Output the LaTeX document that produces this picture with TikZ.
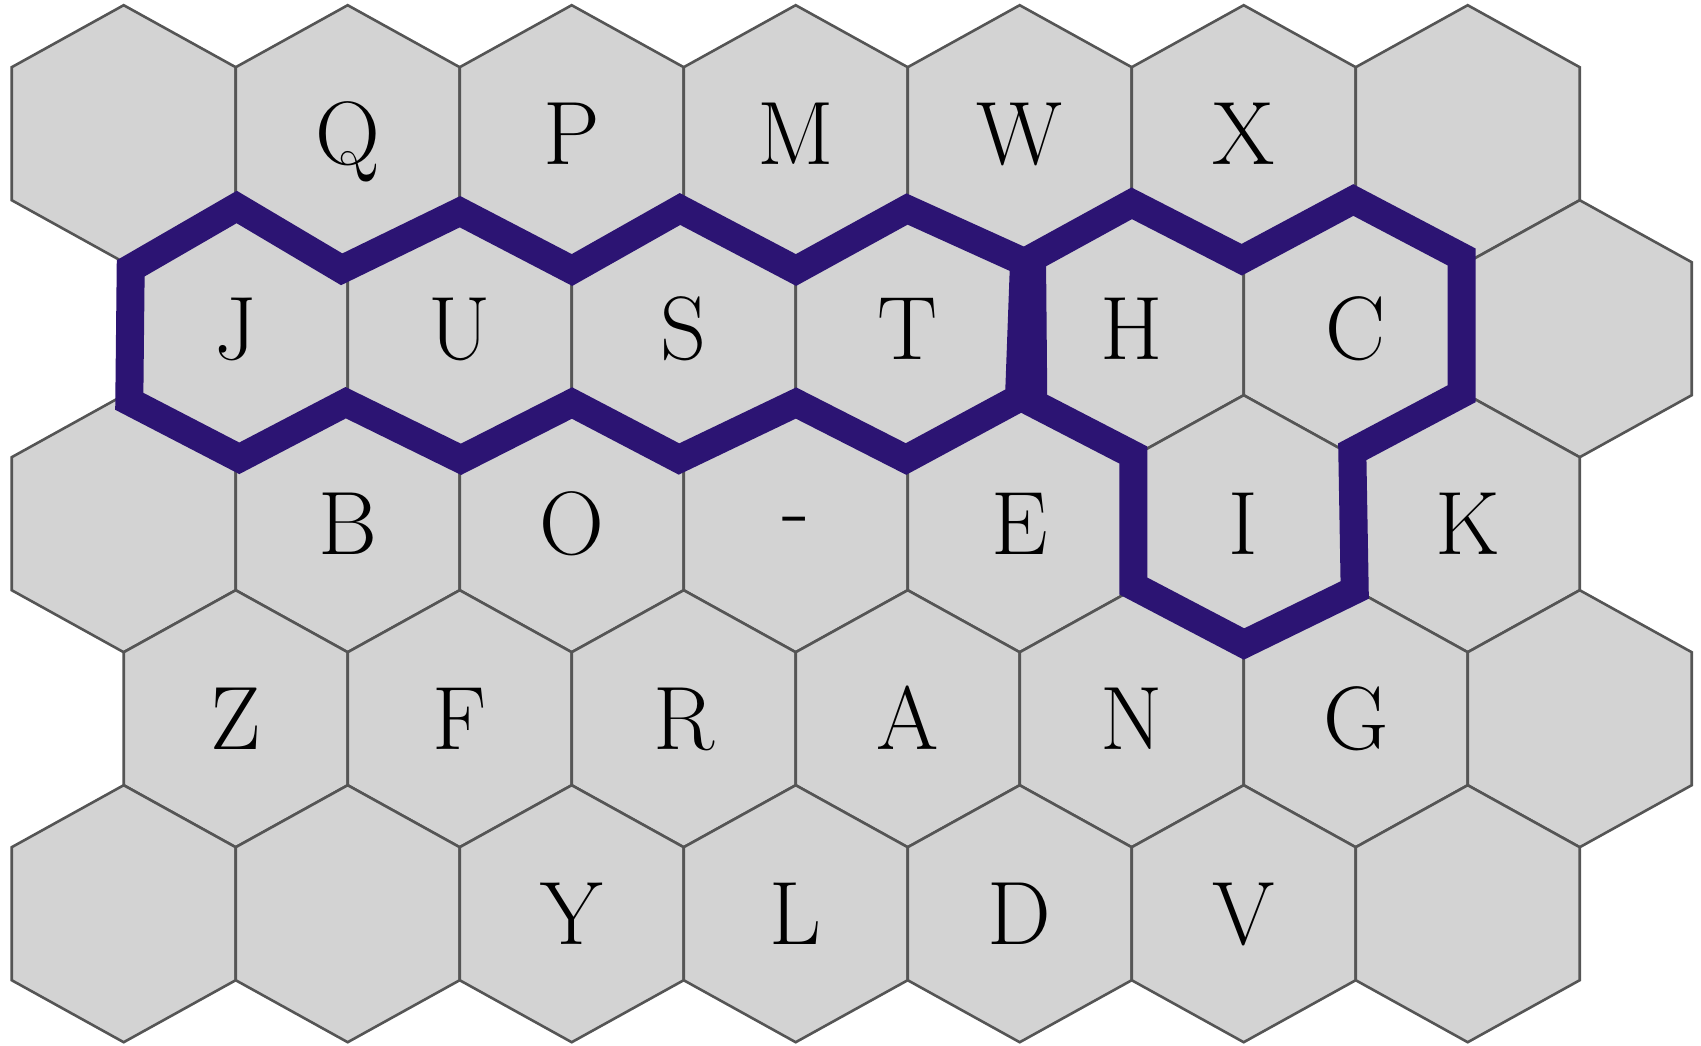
\documentclass[tikz,border=0pt]{standalone}
\definecolor{hexfill}{RGB}{211,211,211}
\definecolor{hexline}{RGB}{85,85,85}
\definecolor{wordline}{RGB}{44,20,115}
\begin{document}
\begin{tikzpicture}[x=0.5pt,y=-0.5pt,
  hexcell/.style={fill=hexfill, draw=hexline, line width=1.3pt, line join=miter},
  lbl/.style={anchor=base, inner sep=0pt, font=\fontsize{45}{54}\selectfont},
  wordpath/.style={draw=wordline, line width=14pt, line join=miter, miter limit=4}]
\useasboundingbox (0,0) rectangle (1701,1045);
% hexagonal grid
\foreach \r in {0,...,4}{
  \foreach \k in {0,...,6}{
    \pgfmathsetmacro\cx{123.7 + 224*\k + 112*mod(\r,2)}
    \pgfmathsetmacro\cy{133.7 + 195*\r}
    \draw[hexcell] (\cx,\cy-128.5) -- (\cx+112,\cy-66.5) -- (\cx+112,\cy+66.5)
      -- (\cx,\cy+128.5) -- (\cx-112,\cy+66.5) -- (\cx-112,\cy-66.5) -- cycle;
  }
}
% row 0
\node[lbl] (Q) at (347.7,164.7) {Q};
\node[lbl] (P) at (571.7,164.7) {P};
\node[lbl] (M) at (795.7,164.7) {M};
\node[lbl] (W) at (1019.7,164.7) {W};
\node[lbl] (X) at (1243.7,164.7) {X};
% row 1
\node[lbl] (J) at (235.7,359.7) {J};
\node[lbl] (U) at (459.7,359.7) {U};
\node[lbl] (S) at (683.7,359.7) {S};
\node[lbl] (T) at (907.7,359.7) {T};
\node[lbl] (H) at (1131.7,359.7) {H};
\node[lbl] (C) at (1355.7,359.7) {C};
% row 2
\node[lbl] (B) at (347.7,554.7) {B};
\node[lbl] (O) at (571.7,554.7) {O};
\node[lbl] (hyph) at (795.7,538) {-};
\node[lbl] (E) at (1019.7,554.7) {E};
\node[lbl] (I) at (1243.7,554.7) {I};
\node[lbl] (K) at (1467.7,554.7) {K};
% row 3
\node[lbl] (Z) at (235.7,749.7) {Z};
\node[lbl] (F) at (459.7,749.7) {F};
\node[lbl] (R) at (683.7,749.7) {R};
\node[lbl] (A) at (907.7,749.7) {A};
\node[lbl] (N) at (1131.7,749.7) {N};
\node[lbl] (G) at (1355.7,749.7) {G};
% row 4
\node[lbl] (Y) at (571.7,944.7) {Y};
\node[lbl] (L) at (795.7,944.7) {L};
\node[lbl] (D) at (1019.7,944.7) {D};
\node[lbl] (V) at (1243.7,944.7) {V};
% word outlines
\draw[wordpath] (130.7,268.3) -- (236.7,207) -- (341.7,269.3) -- (460,211.7)
  -- (572,270) -- (680,209) -- (796,270) -- (907,209) -- (1024,262)
  -- (1019,398) -- (906,459) -- (796,403) -- (679,459) -- (572,403)
  -- (461,459.3) -- (345.7,402.7) -- (239.3,458.3) -- (129.3,401.3) -- cycle;
\draw[wordpath] (1032,258) -- (1131.7,203.3) -- (1241.7,259.7) -- (1353.3,200)
  -- (1461.7,257) -- (1461.7,393.7) -- (1352.3,451.7) -- (1354.7,590)
  -- (1244,644) -- (1133.3,586) -- (1133.3,455) -- (1033.3,403.3) -- cycle;
\end{tikzpicture}
\end{document}
